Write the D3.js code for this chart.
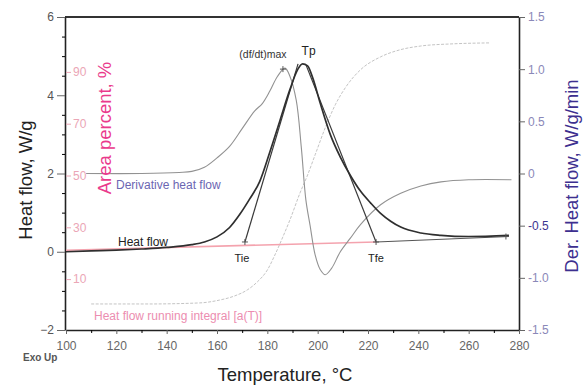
<!DOCTYPE html>
<html>
<head>
<meta charset="utf-8">
<script src="https://cdn.jsdelivr.net/npm/d3@7"></script>
<style>
  body { margin: 0; background: #fff; }
  text { font-family: Arial, "Liberation Sans", sans-serif; }
</style>
</head>
<body>
<svg id="chart" width="584" height="386"></svg>
<script>
// heat flow, W/g (left axis)
const hfTemp  = [100, 110, 120, 130, 140, 150, 155, 160, 165, 169, 173, 177, 181, 185, 189, 192, 194, 196, 198, 201, 205, 209, 213, 217, 221, 225, 229, 233, 241, 249, 260, 276];
const hfValue = [0.0, 0.02, 0.04, 0.07, 0.11, 0.18, 0.25, 0.38, 0.62, 0.95, 1.35, 1.8, 2.55, 3.35, 4.15, 4.65, 4.8, 4.75, 4.45, 3.8, 3.0, 2.42, 1.95, 1.55, 1.25, 0.98, 0.78, 0.63, 0.48, 0.42, 0.39, 0.42];

// derivative heat flow, W/g/min (right axis)
const derTemp  = [108, 130, 145, 150, 155, 160, 165, 170, 175, 178, 181, 184, 187, 189, 191.5, 193.5, 195.3, 197, 199, 201, 203, 205.5, 209, 213, 217, 225, 233, 241, 249, 260, 277];
const derValue = [0.0, 0.0, 0.01, 0.02, 0.06, 0.15, 0.26, 0.43, 0.6, 0.67, 0.79, 0.93, 1.01, 0.93, 0.7, 0.25, -0.25, -0.5, -0.78, -0.92, -0.97, -0.91, -0.75, -0.62, -0.49, -0.3, -0.19, -0.12, -0.08, -0.06, -0.06];

// heat flow running integral, % (area axis)
const intTemp  = [110, 133, 153, 161, 167, 172, 176, 180, 183, 186, 189, 193, 196, 199, 203, 207, 211, 217, 225, 233, 241, 253, 268.5];
const intValue = [0.4, 0.4, 0.8, 1.9, 3.5, 5.8, 8.9, 13.5, 19.3, 25.9, 32.9, 43.3, 50.2, 58, 68.4, 77.3, 83.9, 90.8, 95.8, 98.6, 100, 100.8, 101.2];

// characteristic points [temp, W/g]
const tie = [171.1, 0.25];
const tfe = [223.2, 0.25];
const tieTop = [192.2, 4.8];
const tfeTop = [195.4, 4.77];
const baseStart = [100, 0.04];
const baseEnd = [276, 0.39];
const tp = [194, 4.8];
const dtMax = [187, 1.01];

const xTicks = [100, 120, 140, 160, 180, 200, 220, 240, 260, 280];
const leftTicks = [-2, 0, 2, 4, 6];
const rightTicks = [-1.5, -1.0, -0.5, 0, 0.5, 1.0, 1.5];
const areaTicks = [10, 30, 50, 70, 90];

const svg = d3.select('#chart');

const x = d3.scaleLinear().domain([100, 280]).range([66, 519]);
const yL = d3.scaleLinear().domain([-2, 6]).range([330, 17]);
const yR = d3.scaleLinear().domain([-1.5, 1.5]).range([330, 17]);
const yA = d3.scaleLinear().domain([0, 100]).range([305, 46]);

// frame
svg.append('line').attr('x1', 65).attr('x2', 519).attr('y1', 17).attr('y2', 17)
    .attr('stroke', '#333').attr('stroke-width', 2);

// bottom axis
const gx = svg.append('g').attr('transform', 'translate(0,330)')
    .call(d3.axisBottom(x).tickValues(xTicks).tickSize(4).tickPadding(7).tickSizeOuter(0));
svg.append('g').attr('transform', 'translate(0,330)')
    .call(d3.axisBottom(x).tickValues(d3.range(110, 280, 20)).tickSize(3).tickFormat(''))
    .call(g => g.select('.domain').remove());

// left axis
const gl = svg.append('g').attr('transform', 'translate(65,0)')
    .call(d3.axisLeft(yL).tickValues(leftTicks).tickSize(8).tickPadding(3).tickSizeOuter(0));
svg.append('g').attr('transform', 'translate(65,0)')
    .call(d3.axisLeft(yL).tickValues(d3.range(-1.5, 6, 0.5).filter(v => v % 2 !== 0)).tickSize(3).tickFormat(''))
    .call(g => g.select('.domain').remove());

// right axis
const gr = svg.append('g').attr('transform', 'translate(519,0)')
    .call(d3.axisRight(yR).tickValues(rightTicks).tickSize(6).tickPadding(3).tickSizeOuter(0)
        .tickFormat(d => d === 0 ? '0' : (d < 0 ? '-' : '') + Math.abs(d).toFixed(1)));

// area percent axis (inside)
const ga = svg.append('g').attr('transform', 'translate(66,0)')
    .call(d3.axisRight(yA).tickValues(areaTicks).tickSize(5).tickPadding(2));
ga.select('.domain').remove();

[gx, gl, gr].forEach(g => {
    g.select('.domain').attr('stroke', '#222').attr('stroke-width', 1.6);
    g.selectAll('.tick line').attr('stroke', '#666');
});
gx.selectAll('text').attr('font-size', 12).attr('fill', '#666');
gl.selectAll('text').attr('font-size', 12).attr('fill', '#555');
gr.selectAll('text').attr('font-size', 12).attr('fill', '#8a88b8');
gr.selectAll('.tick text').filter(d => d === -0.5).attr('fill', '#3d348f');
ga.selectAll('.tick line').attr('stroke', '#eba6b6');
ga.selectAll('text').attr('font-size', 12).attr('fill', '#eba6b6');

// curves
const hfLine = d3.line().x(i => x(hfTemp[i])).y(i => yL(hfValue[i])).curve(d3.curveMonotoneX);
const derLine = d3.line().x(i => x(derTemp[i])).y(i => yR(derValue[i])).curve(d3.curveCatmullRom);
const intLine = d3.line().x(i => x(intTemp[i])).y(i => yA(intValue[i])).curve(d3.curveMonotoneX);
const segLine = d3.line().x(d => x(d[0])).y(d => yL(d[1]));

svg.append('path').attr('d', intLine(d3.range(intTemp.length)))
    .attr('fill', 'none').attr('stroke', '#c4c4c4').attr('stroke-width', 1).attr('stroke-dasharray', '3,1.5');

svg.append('path').attr('d', segLine([baseStart, tfe]))
    .attr('fill', 'none').attr('stroke', '#f4a3ae').attr('stroke-width', 1.6);

svg.append('path').attr('d', derLine(d3.range(derTemp.length)))
    .attr('fill', 'none').attr('stroke', '#929292').attr('stroke-width', 1.1);

svg.append('path').attr('d', segLine([tfe, baseEnd]))
    .attr('fill', 'none').attr('stroke', '#555').attr('stroke-width', 1.1);
svg.append('path').attr('d', segLine([tie, tieTop]))
    .attr('fill', 'none').attr('stroke', '#3a3a3a').attr('stroke-width', 1.2);
svg.append('path').attr('d', segLine([tfeTop, tfe]))
    .attr('fill', 'none').attr('stroke', '#3a3a3a').attr('stroke-width', 1.2);

svg.append('path').attr('d', hfLine(d3.range(hfTemp.length)))
    .attr('fill', 'none').attr('stroke', '#2f2f2f').attr('stroke-width', 1.7);

// markers
const cross = (cx, cy) => svg.append('path')
    .attr('d', `M${cx - 3},${cy}H${cx + 3}M${cx},${cy - 3}V${cy + 3}`)
    .attr('stroke', '#555').attr('stroke-width', 1);
cross(x(tie[0]), yL(tie[1]));
cross(x(tfe[0]), yL(tfe[1]));
cross(x(baseEnd[0]) - 3, yL(baseEnd[1]));
cross(x(dtMax[0]) - 2, yR(dtMax[1]) + 1);

// annotations
const label = (t, px, py, size, fill, anchor) => svg.append('text')
    .attr('x', px).attr('y', py).attr('font-size', size).attr('fill', fill)
    .attr('text-anchor', anchor || 'start').text(t);

label('Tp', x(tp[0]) + 6, yL(tp[1]) - 9, 12, '#222', 'middle');
label('(df/dt)max', x(dtMax[0]) - 22, yR(dtMax[1]) - 10, 10.5, '#333', 'middle');
label('Tie', x(tie[0]) - 3, yL(tie[1]) + 20, 11, '#222', 'middle');
label('Tfe', x(tfe[0]) - 0, yL(tfe[1]) + 20, 11, '#222', 'middle');
label('Derivative heat flow', 116, 189, 12, '#6b66b2');
label('Heat flow', 118, 246, 12, '#222');
label('Heat flow running integral [a(T)]', 94, 320, 12, '#ec8db0');
label('Exo Up', 23, 361, 10, '#555').attr('font-weight', 'bold');

label('Temperature, \u00b0C', 285, 381, 18.5, '#222', 'middle');
svg.append('text').attr('transform', 'translate(32,180) rotate(-90)')
    .attr('text-anchor', 'middle').attr('font-size', 18.5).attr('fill', '#222').text('Heat flow, W/g');
svg.append('text').attr('transform', 'translate(111,128) rotate(-90)')
    .attr('text-anchor', 'middle').attr('font-size', 18.5).attr('fill', '#ea3a8c').text('Area percent, %');
svg.append('text').attr('transform', 'translate(578,176) rotate(-90)')
    .attr('text-anchor', 'middle').attr('font-size', 18.5).attr('fill', '#3d2f8f').text('Der. Heat flow, W/g/min');
</script>
</body>
</html>
